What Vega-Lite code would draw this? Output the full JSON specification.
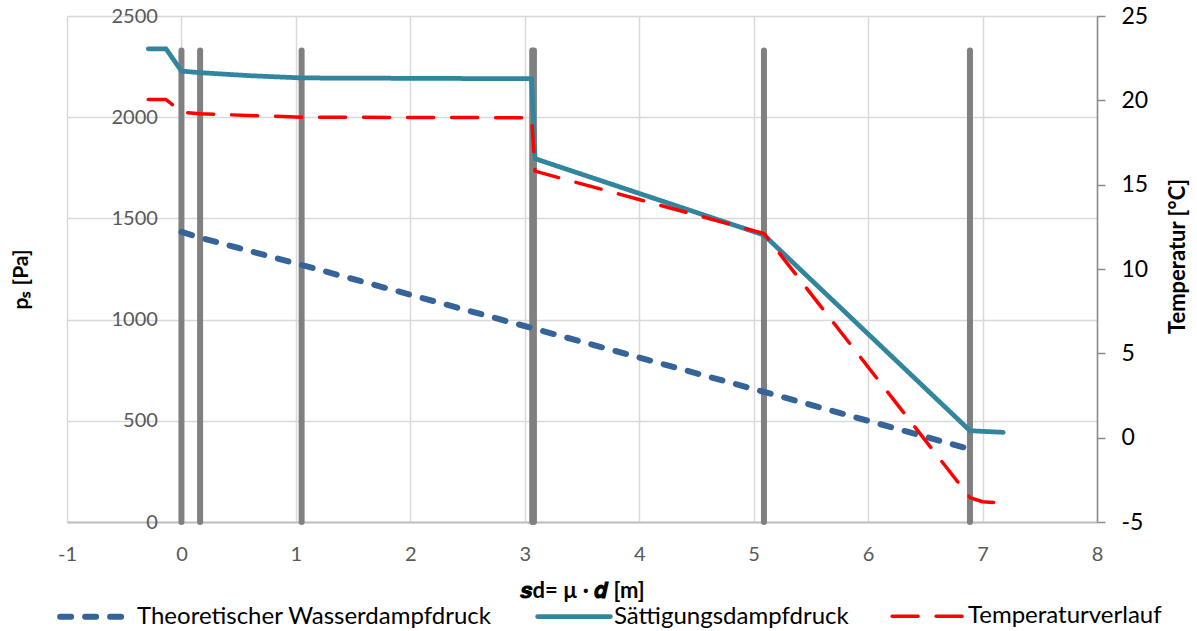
{
  "$schema": "https://vega.github.io/schema/vega-lite/v6.json",
  "width": 1030,
  "height": 506,
  "autosize": {"type": "none"},
  "padding": {"left": 67, "top": 16, "right": 100, "bottom": 109},
  "background": "white",
  "config": {"view": {"stroke": null}, "font": "Lato"},
  "datasets": {
    "walls": [
      {"x": 0, "top": 2330, "base": 0},
      {"x": 0.163, "top": 2330, "base": 0},
      {"x": 1.05, "top": 2330, "base": 0},
      {"x": 3.065, "top": 2330, "base": 0},
      {"x": 3.08, "top": 2330, "base": 0},
      {"x": 5.09, "top": 2330, "base": 0},
      {"x": 6.89, "top": 2330, "base": 0}
    ],
    "lines": [
      {"series": "Theoretischer Wasserdampfdruck", "x": 0, "p": 1433},
      {"series": "Theoretischer Wasserdampfdruck", "x": 0.163, "p": 1405},
      {"series": "Theoretischer Wasserdampfdruck", "x": 1.05, "p": 1270},
      {"series": "Theoretischer Wasserdampfdruck", "x": 3.07, "p": 957},
      {"series": "Theoretischer Wasserdampfdruck", "x": 5.09, "p": 643},
      {"series": "Theoretischer Wasserdampfdruck", "x": 6.89, "p": 360},
      {"series": "Sättigungsdampfdruck", "x": -0.29, "p": 2338},
      {"series": "Sättigungsdampfdruck", "x": -0.135, "p": 2338},
      {"series": "Sättigungsdampfdruck", "x": 0, "p": 2228},
      {"series": "Sättigungsdampfdruck", "x": 0.163, "p": 2220},
      {"series": "Sättigungsdampfdruck", "x": 0.6, "p": 2205},
      {"series": "Sättigungsdampfdruck", "x": 1.05, "p": 2194},
      {"series": "Sättigungsdampfdruck", "x": 3.06, "p": 2190},
      {"series": "Sättigungsdampfdruck", "x": 3.09, "p": 1795},
      {"series": "Sättigungsdampfdruck", "x": 5.09, "p": 1418},
      {"series": "Sättigungsdampfdruck", "x": 6.89, "p": 451},
      {"series": "Sättigungsdampfdruck", "x": 7.18, "p": 443},
      {"series": "Temperaturverlauf", "x": -0.29, "t": 20.05},
      {"series": "Temperaturverlauf", "x": -0.135, "t": 20.05},
      {"series": "Temperaturverlauf", "x": 0, "t": 19.3},
      {"series": "Temperaturverlauf", "x": 0.163, "t": 19.2},
      {"series": "Temperaturverlauf", "x": 1.05, "t": 19.0},
      {"series": "Temperaturverlauf", "x": 3.06, "t": 18.97},
      {"series": "Temperaturverlauf", "x": 3.09, "t": 15.8},
      {"series": "Temperaturverlauf", "x": 5.09, "t": 12.1},
      {"series": "Temperaturverlauf", "x": 6.89, "t": -3.55},
      {"series": "Temperaturverlauf", "x": 7.0, "t": -3.8},
      {"series": "Temperaturverlauf", "x": 7.13, "t": -3.85}
    ]
  },
  "layer": [
    {
      "layer": [
        {
          "data": {"name": "walls"},
          "mark": {"type": "rule", "color": "#808080", "strokeWidth": 6, "strokeCap": "round"},
          "encoding": {
            "x": {
              "field": "x",
              "type": "quantitative",
              "scale": {"domain": [-1, 8], "nice": false, "zero": false},
              "axis": {
                "values": [-1, 0, 1, 2, 3, 4, 5, 6, 7, 8],
                "labelExpr": "'' + datum.value",
                "grid": true,
                "gridColor": "#d9d9d9",
                "gridWidth": 1.5,
                "domain": true,
                "domainColor": "#bfbfbf",
                "domainWidth": 2,
                "ticks": false,
                "labelPadding": 22,
                "labelFont": "Lato",
                "labelFontSize": 20,
                "labelColor": "#595959",
                "labelFlush": false,
                "title": "𝒔d= µ · 𝒅 [m]",
                "titleFont": "Lato",
                "titleFontSize": 22,
                "titleFontWeight": "bold",
                "titleColor": "#000000",
                "titlePadding": 16
              }
            },
            "y": {
              "field": "top",
              "type": "quantitative",
              "scale": {"domain": [0, 2500], "nice": false},
              "axis": {
                "orient": "left",
                "offset": -114.4,
                "values": [0, 500, 1000, 1500, 2000, 2500],
                "labelExpr": "'' + datum.value",
                "ticks": false,
                "domain": false,
                "grid": true,
                "gridColor": "#d9d9d9",
                "gridWidth": 1.5,
                "labelFont": "Lato",
                "labelFontSize": 20,
                "labelColor": "#595959",
                "labelPadding": 24,
                "labelFlush": false,
                "title": "pₛ [Pa]",
                "titleFont": "Lato",
                "titleFontSize": 21,
                "titleFontWeight": "bold",
                "titleColor": "#000000",
                "titleAngle": 270,
                "titleX": -150,
                "titleY": 263
              }
            },
            "y2": {"field": "base"}
          }
        },
        {
          "data": {"name": "lines"},
          "transform": [{"filter": "datum.series !== 'Temperaturverlauf'"}],
          "mark": {"type": "line", "strokeCap": "round", "strokeJoin": "round"},
          "encoding": {
            "x": {"field": "x", "type": "quantitative"},
            "y": {"field": "p", "type": "quantitative"},
            "color": {
              "field": "series",
              "type": "nominal",
              "scale": {
                "domain": ["Theoretischer Wasserdampfdruck", "Sättigungsdampfdruck", "Temperaturverlauf"],
                "range": ["#35639A", "#31859C", "#FF0000"]
              },
              "legend": {
                "orient": "none",
                "legendX": -10,
                "legendY": 561,
                "direction": "horizontal",
                "title": null,
                "symbolType": "stroke",
                "symbolSize": 5300,
                "labelFont": "Lato",
                "labelFontSize": 24,
                "labelColor": "#000000",
                "labelOffset": 1,
                "columnPadding": 36,
                "labelLimit": 600,
                "encode": {"symbols": {"update": {"strokeCap": {"value": "round"}}}}
              }
            },
            "strokeDash": {
              "field": "series",
              "type": "nominal",
              "scale": {
                "domain": ["Theoretischer Wasserdampfdruck", "Sättigungsdampfdruck", "Temperaturverlauf"],
                "range": [[11, 14], [1, 0], [26, 18]]
              }
            },
            "strokeWidth": {
              "field": "series",
              "type": "nominal",
              "scale": {
                "domain": ["Theoretischer Wasserdampfdruck", "Sättigungsdampfdruck", "Temperaturverlauf"],
                "range": [6, 3.5, 4]
              }
            }
          }
        }
      ]
    },
    {
      "data": {"name": "lines"},
      "transform": [{"filter": "datum.series === 'Temperaturverlauf'"}],
      "mark": {"type": "line", "strokeCap": "round", "strokeJoin": "round"},
      "encoding": {
        "x": {"field": "x", "type": "quantitative"},
        "y": {
          "field": "t",
          "type": "quantitative",
          "scale": {"domain": [-5, 25], "nice": false, "zero": false},
          "axis": {
            "orient": "right",
            "values": [-5, 0, 5, 10, 15, 20, 25],
            "labelExpr": "'' + datum.value",
            "grid": false,
            "domain": true,
            "domainColor": "#8c8c8c",
            "domainWidth": 1.5,
            "ticks": true,
            "tickColor": "#8c8c8c",
            "tickSize": 8,
            "tickWidth": 1.5,
            "labelPadding": 16,
            "labelFont": "Lato",
            "labelFontSize": 23,
            "labelColor": "#000000",
            "labelFlush": false,
            "title": "Temperatur [°C]",
            "titleFont": "Lato",
            "titleFontSize": 22,
            "titleFontWeight": "bold",
            "titleColor": "#000000",
            "titleAngle": 270,
            "titleX": 92,
            "titleY": 240
          }
        },
        "color": {"field": "series", "type": "nominal"},
        "strokeDash": {"field": "series", "type": "nominal"},
        "strokeWidth": {"field": "series", "type": "nominal"}
      }
    }
  ],
  "resolve": {"scale": {"y": "independent"}}
}
